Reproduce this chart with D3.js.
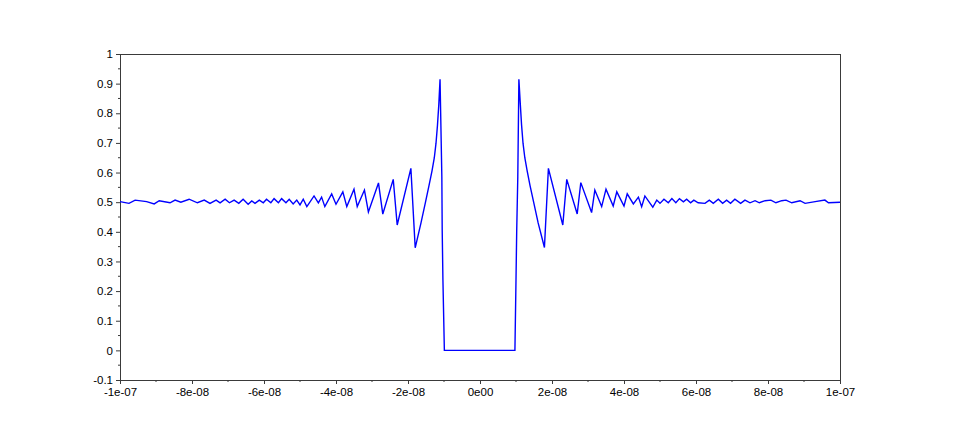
<!DOCTYPE html>
<html>
<head>
<meta charset="utf-8">
<script src="https://cdn.jsdelivr.net/npm/d3@7"></script>
<style>
  html, body { margin: 0; padding: 0; background: #fff; }
  svg { display: block; }
</style>
</head>
<body>
<svg id="chart" width="960" height="434"></svg>
<script>
// time in nanoseconds (converted to seconds for the scale)
const timeNs = [
  -100, -97.5, -95.8, -92.6, -90.5, -89.1, -86.1, -84.7, -83.1, -80.8,
  -78.5, -76.6, -75.0, -73.3, -72.2, -70.8, -69.6, -68.3, -67.0, -65.8,
  -64.4, -63.4, -62.5, -61.3, -60.2, -59.3, -58.1, -57.2, -56.0, -55.1,
  -53.9, -53.0, -51.9, -50.9, -50.0, -49.1, -48.1, -46.1, -44.9, -44.0,
  -43.1, -41.2, -40.0, -38.1, -37.0, -35.0, -34.1, -32.1, -31.0, -28.2,
  -27.0, -24.1, -23.0, -19.2, -18.0, -16.39, -15.14, -14.17, -13.33, -12.69,
  -12.22, -11.81, -11.44, -11.1,
  -10.6, -10.5, -10.3, -9.9,
  9.7, 10.0, 10.2, 10.5, 10.8, 11.2, 11.55, 11.95, 12.45, 13.1,
  13.9, 14.9, 16.15, 17.9,
  19.0, 23.0, 24.1, 27.0, 28.0, 31.0, 31.9, 33.8, 35.0, 37.0,
  38.0, 40.0, 40.9, 42.6, 44.0, 44.9, 45.8, 48.0, 49.1, 50.0,
  51.1, 52.3, 53.3, 54.4, 55.4, 56.5, 57.4, 58.5, 59.4, 60.6,
  62.5, 63.7, 64.8, 66.2, 67.4, 68.5, 69.6, 70.8, 72.4, 73.6,
  75.0, 76.4, 77.6, 79.2, 80.8, 82.2, 83.8, 85.0, 86.6, 88.9,
  90.3, 93.1, 95.8, 96.8, 100
];
const signal = [
  0.502, 0.496, 0.507, 0.502, 0.494, 0.505, 0.498, 0.507, 0.500, 0.510,
  0.498, 0.507, 0.496, 0.507, 0.498, 0.510, 0.498, 0.507, 0.496, 0.510,
  0.493, 0.504, 0.496, 0.507, 0.498, 0.510, 0.498, 0.512, 0.498, 0.512,
  0.498, 0.510, 0.494, 0.507, 0.491, 0.510, 0.485, 0.521, 0.498, 0.517,
  0.485, 0.528, 0.493, 0.535, 0.485, 0.544, 0.485, 0.541, 0.467, 0.565,
  0.460, 0.577, 0.423, 0.614, 0.346, 0.430, 0.500, 0.556, 0.606, 0.650,
  0.699, 0.760, 0.830, 0.915,
  0.586, 0.406, 0.238, 0.000,
  0.000, 0.238, 0.406, 0.586, 0.915, 0.830, 0.760, 0.699, 0.650, 0.606,
  0.556, 0.500, 0.430, 0.347,
  0.614, 0.423, 0.577, 0.460, 0.566, 0.465, 0.541, 0.485, 0.544, 0.487,
  0.535, 0.487, 0.528, 0.494, 0.517, 0.485, 0.521, 0.483, 0.507, 0.496,
  0.510, 0.498, 0.512, 0.498, 0.512, 0.501, 0.510, 0.498, 0.507, 0.498,
  0.496, 0.507, 0.496, 0.510, 0.496, 0.507, 0.496, 0.510, 0.496, 0.507,
  0.498, 0.505, 0.498, 0.505, 0.507, 0.498, 0.505, 0.507, 0.498, 0.505,
  0.496, 0.502, 0.507, 0.498, 0.500
];

const xTickValues = [-1e-7, -8e-8, -6e-8, -4e-8, -2e-8, 0, 2e-8, 4e-8, 6e-8, 8e-8, 1e-7];
const xTickLabels = ["-1e-07", "-8e-08", "-6e-08", "-4e-08", "-2e-08", "0e00", "2e-08", "4e-08", "6e-08", "8e-08", "1e-07"];
const xMinorTicks = [-9e-8, -7e-8, -5e-8, -3e-8, -1e-8, 1e-8, 3e-8, 5e-8, 7e-8, 9e-8];
const yTickValues = [-0.1, 0, 0.1, 0.2, 0.3, 0.4, 0.5, 0.6, 0.7, 0.8, 0.9, 1];
const yTickLabels = ["-0.1", "0", "0.1", "0.2", "0.3", "0.4", "0.5", "0.6", "0.7", "0.8", "0.9", "1"];
const yMinorTicks = [-0.05, 0.05, 0.15, 0.25, 0.35, 0.45, 0.55, 0.65, 0.75, 0.85, 0.95];

const margin = { left: 120, right: 120, top: 54, bottom: 54 };
const W = 960, H = 434;
const svg = d3.select("#chart");

const x = d3.scaleLinear().domain([-1e-7, 1e-7]).range([margin.left, W - margin.right]);
const y = d3.scaleLinear().domain([-0.1, 1]).range([H - margin.bottom, margin.top]);

const axisColor = "#3a3a3a";
const fontFamily = "'Liberation Sans', Arial, sans-serif";

// frame (top and right)
svg.append("line").attr("x1", x(-1e-7)).attr("x2", x(1e-7)).attr("y1", y(1)).attr("y2", y(1))
  .attr("stroke", axisColor).attr("stroke-width", 1).attr("shape-rendering", "crispEdges");
svg.append("line").attr("x1", x(1e-7)).attr("x2", x(1e-7)).attr("y1", y(1)).attr("y2", y(-0.1))
  .attr("stroke", axisColor).attr("stroke-width", 1).attr("shape-rendering", "crispEdges");

// x axis
const xAxis = d3.axisBottom(x).tickValues(xTickValues)
  .tickFormat((d, i) => xTickLabels[i]).tickSizeInner(4).tickSizeOuter(0).tickPadding(4);
const gx = svg.append("g").attr("transform", `translate(0,${y(-0.1)})`).call(xAxis);
gx.append("g").selectAll("line").data(xMinorTicks).join("line")
  .attr("x1", d => x(d)).attr("x2", d => x(d)).attr("y1", 0).attr("y2", 2)
  .attr("stroke", axisColor);

// y axis
const yAxis = d3.axisLeft(y).tickValues(yTickValues)
  .tickFormat((d, i) => yTickLabels[i]).tickSizeInner(4).tickSizeOuter(0).tickPadding(3);
const gy = svg.append("g").attr("transform", `translate(${x(-1e-7)},0)`).call(yAxis);
gy.append("g").selectAll("line").data(yMinorTicks).join("line")
  .attr("x1", 0).attr("x2", -2).attr("y1", d => y(d)).attr("y2", d => y(d))
  .attr("stroke", axisColor);

[gx, gy].forEach(g => {
  g.select(".domain").attr("stroke", axisColor).attr("shape-rendering", "crispEdges");
  g.selectAll(".tick line").attr("stroke", axisColor);
  g.selectAll("text").attr("fill", "#000").style("font-family", fontFamily).style("font-size", "11.5px");
});

// data line
const pts = timeNs.map((t, i) => [t * 1e-9, signal[i]]);
const line = d3.line().x(d => x(d[0])).y(d => y(d[1]));
svg.append("path").datum(pts).attr("d", line)
  .attr("fill", "none").attr("stroke", "#0000ff").attr("stroke-width", 1.4)
  .attr("stroke-linejoin", "miter");
</script>
</body>
</html>
